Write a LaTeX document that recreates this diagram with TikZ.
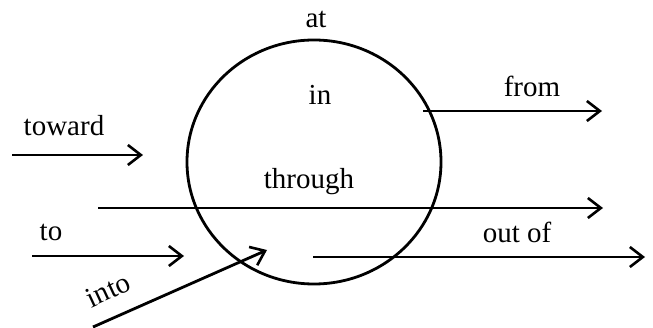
\documentclass[tikz,border=0pt]{standalone}
\usepackage{fontspec}
\setmainfont{Liberation Serif}
\usetikzlibrary{arrows.meta}
\begin{document}
\begin{tikzpicture}[x=1pt,y=-1pt,
  lbl/.style={font=\fontsize{29}{32}\selectfont, inner sep=0pt},
  arr/.style={line width=2.8pt, -{Straight Barb[length=13pt,width=20pt,line width=2.6pt]}}]
\useasboundingbox (0,0) rectangle (653,328);
\draw[line width=2.8pt] (314,162) ellipse [x radius=127, y radius=122];
\node[lbl] (at) at (316,19) {at};
\node[lbl] (in) at (320,95) {in};
\node[lbl] (through) at (309,182) {through};
\node[lbl] (toward) at (64,126) {toward};
\node[lbl] (to) at (51,232) {to};
\node[lbl, rotate=25] (into) at (108,290) {into};
\node[lbl] (from) at (532,86) {from};
\node[lbl] (outof) at (517,232) {out of};
\coordinate (tw1) at (12,155); \coordinate (tw2) at (143,155);
\coordinate (th1) at (98,208); \coordinate (th2) at (603,208);
\coordinate (to1) at (32,256); \coordinate (to2) at (184,256);
\coordinate (in1) at (93,327); \coordinate (in2) at (267,250);
\coordinate (fr1) at (423,111); \coordinate (fr2) at (602,111);
\coordinate (of1) at (313,257); \coordinate (of2) at (645,257);
\draw[arr] (tw1) -- (tw2);
\draw[arr] (th1) -- (th2);
\draw[arr] (to1) -- (to2);
\draw[arr] (in1) -- (in2);
\draw[arr] (fr1) -- (fr2);
\draw[arr] (of1) -- (of2);
\end{tikzpicture}
\end{document}
